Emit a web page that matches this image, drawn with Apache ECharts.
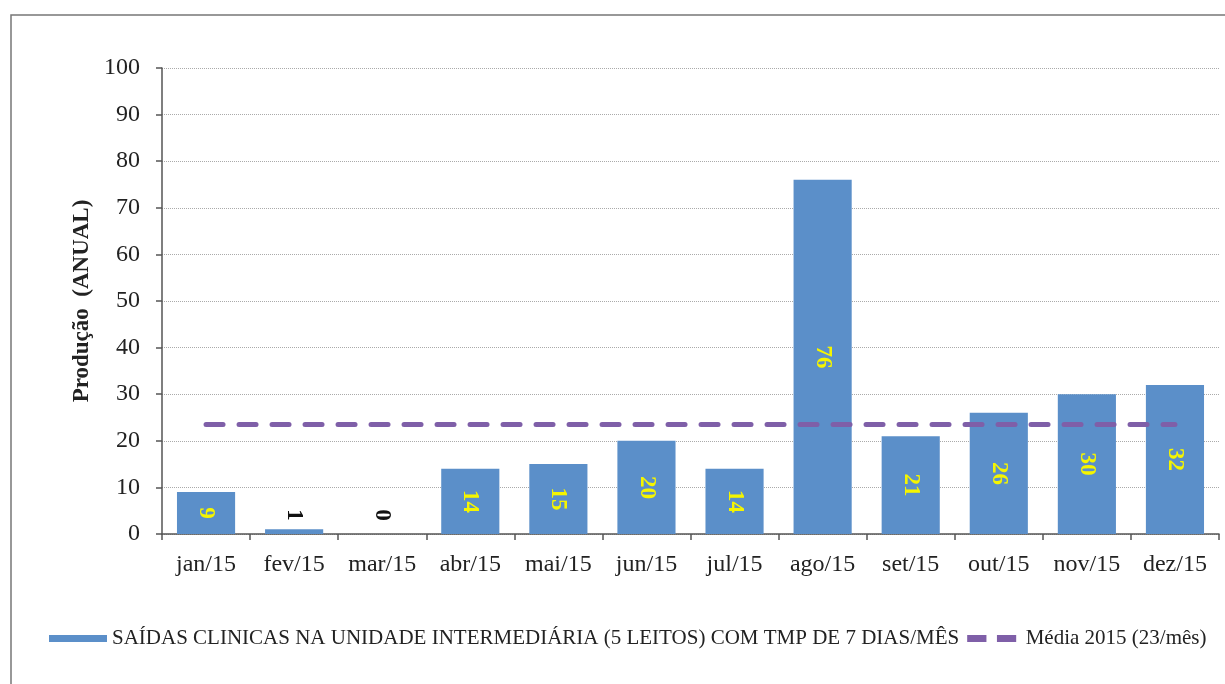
<!DOCTYPE HTML>
<html>
	<head>
		<meta http-equiv="Content-Type" content="text/html; charset=utf-8" />
		<title>Saídas clínicas 2015</title>
		<style type="text/css">
			html, body {
				margin: 0;
				padding: 0;
				background: #fff;
			}
			#main {
				width: 1225px;
				height: 684px;
			}
		</style>
	</head>
	<body>
		<div id="main"></div>
		<script type="text/javascript" src="https://cdn.jsdelivr.net/npm/echarts@6/dist/echarts.min.js"></script>
		<script type="text/javascript">
		// dados
		var meses = ['jan/15', 'fev/15', 'mar/15', 'abr/15', 'mai/15', 'jun/15', 'jul/15', 'ago/15', 'set/15', 'out/15', 'nov/15', 'dez/15'];
		var saidas = [9, 1, 0, 14, 15, 20, 14, 76, 21, 26, 30, 32];
		var media = [23.5, 23.5, 23.5, 23.5, 23.5, 23.5, 23.5, 23.5, 23.5, 23.5, 23.5, 23.5];
		var nomeBarra = 'SAÍDAS CLINICAS NA UNIDADE INTERMEDIÁRIA (5 LEITOS) COM TMP DE 7 DIAS/MÊS';
		var nomeMedia = 'Média 2015 (23/mês)';

		var fonte = '"Liberation Serif", "Times New Roman", serif';

		// valores pequenos: rótulo preto acima da base
		var barData = saidas.map(function(v) {
			if (v < 5) {
				return {
					value: v,
					label: { position: 'insideBottom', distance: 19, color: '#111' }
				};
			}
			return v;
		});

		var myChart = echarts.init(document.getElementById('main'));
		var option = {
			backgroundColor: '#fff',
			animation: false,
			textStyle: { fontFamily: fonte },
			graphic: [{
				type: 'rect',
				shape: { x: 11, y: 15, width: 1230, height: 700 },
				style: { fill: 'none', stroke: '#777', lineWidth: 1.5 },
				silent: true
			}],
			grid: {
				left: 162,
				right: 6,
				top: 68,
				bottom: 150
			},
			legend: {
				bottom: 30,
				left: 44,
				itemWidth: 58,
				itemHeight: 7,
				itemGap: 8,
				textStyle: { fontFamily: fonte, fontSize: 21, color: '#222' },
				data: [
					{ name: nomeBarra, icon: 'rect' },
					{ name: nomeMedia, icon: 'path://M0,0 H22 V8 H0 Z M34,0 H56 V8 H34 Z' }
				]
			},
			xAxis: {
				type: 'category',
				data: meses,
				axisLine: { lineStyle: { color: '#555', width: 1.5 } },
				axisTick: { show: true, interval: 0, length: 6, lineStyle: { color: '#555', width: 1.5 } },
				axisLabel: { interval: 0, fontFamily: fonte, fontSize: 24, color: '#222', margin: 19 }
			},
			yAxis: {
				type: 'value',
				min: 0,
				max: 100,
				interval: 10,
				name: 'Produção  (ANUAL)',
				nameLocation: 'middle',
				nameGap: 66,
				nameTextStyle: { fontFamily: fonte, fontSize: 23, fontWeight: 'bold', color: '#222' },
				axisLine: { show: true, lineStyle: { color: '#555', width: 1.5 } },
				axisTick: { show: true, length: 6, lineStyle: { color: '#555', width: 1.5 } },
				axisLabel: { fontFamily: fonte, fontSize: 24, color: '#222', margin: 22 },
				splitLine: { lineStyle: { color: '#aaa', type: 'dotted', width: 1 } }
			},
			series: [
				{
					name: nomeBarra,
					type: 'bar',
					data: barData,
					barCategoryGap: '34%',
					itemStyle: { color: '#5b8fc9' },
					label: {
						show: true,
						position: 'inside',
						rotate: -90,
						align: 'center',
						verticalAlign: 'middle',
						fontFamily: fonte,
						fontSize: 23,
						fontWeight: 'bold',
						color: '#f5f500'
					},
					z: 2
				},
				{
					name: nomeMedia,
					type: 'line',
					data: media,
					symbol: 'none',
					lineStyle: { color: '#7f5fa8', width: 5, type: [17, 16], cap: 'round' },
					itemStyle: { color: '#7f5fa8' },
					z: 3
				}
			]
		};
		myChart.setOption(option);
		</script>
	</body>
</html>
